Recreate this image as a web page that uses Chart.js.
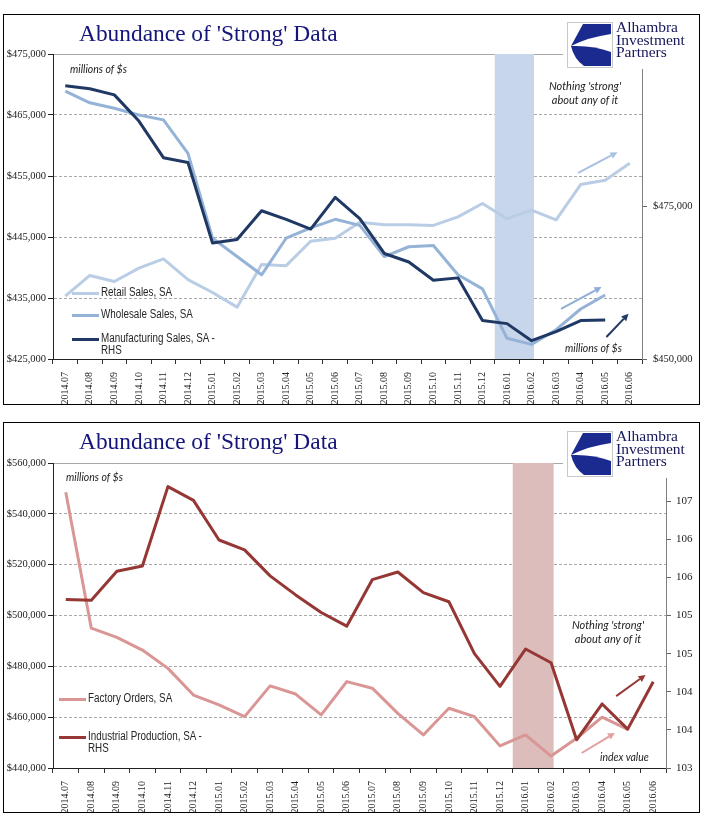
<!DOCTYPE html>
<html>
<head>
<meta charset="utf-8">
<script src="https://cdn.jsdelivr.net/npm/chart.js@4.4.0/dist/chart.umd.min.js"></script>
<style>
html,body{margin:0;padding:0;background:#fff;}
body{width:705px;height:834px;position:relative;overflow:hidden;}
.box{position:absolute;left:3px;width:695px;height:389px;border:1px solid #000;background:#fff;}
.box canvas{position:absolute;left:0;top:0;}
.title{position:absolute;left:79px;font-family:'Liberation Serif','Times New Roman',serif;font-size:23.4px;line-height:23.4px;color:#14147a;white-space:nowrap;}
.logo{position:absolute;left:563px;width:132px;height:50px;background:#fff;}
.logo svg{position:absolute;left:4px;top:3px;}
.logo .ltxt{position:absolute;left:53px;top:2px;font-family:'Liberation Serif','Times New Roman',serif;font-size:15.5px;line-height:12.6px;color:#16165a;white-space:nowrap;}
.note{position:absolute;font-family:Lato,'Open Sans',sans-serif;font-style:italic;font-size:10.5px;line-height:14px;color:#222;white-space:nowrap;}
.lg-sw{position:absolute;height:3px;width:27px;}
.lg-tx{position:absolute;font-family:'Liberation Sans',Arial,sans-serif;font-size:12px;line-height:11.5px;color:#262626;white-space:pre;transform:scaleX(0.82);transform-origin:0 0;}
</style>
</head>
<body>
<div class="box" style="top:14px;"><canvas id="c1" width="695" height="389"></canvas></div>
<div class="box" style="top:422px;"><canvas id="c2" width="695" height="389"></canvas></div>

<div class="title" style="top:22px;">Abundance of 'Strong' Data</div>
<div class="title" style="top:430px;">Abundance of 'Strong' Data</div>

<div class="logo" style="top:19px;">
  <svg width="46" height="46" viewBox="0 0 46 46"><rect x="0.5" y="0.5" width="45" height="45" fill="#fff" stroke="#c8c8c8"/><path d="M16,2 H44 V12 Q22,15 4,24 Z" fill="#1a2a8f"/><path d="M4,24 Q26,23 44,30 V44 H17 Q7,37 4,24 Z" fill="#1a2a8f"/></svg>
  <div class="ltxt">Alhambra<br>Investment<br>Partners</div>
</div>
<div class="logo" style="top:428px;">
  <svg width="46" height="46" viewBox="0 0 46 46"><rect x="0.5" y="0.5" width="45" height="45" fill="#fff" stroke="#c8c8c8"/><path d="M16,2 H44 V12 Q22,15 4,24 Z" fill="#1a2a8f"/><path d="M4,24 Q26,23 44,30 V44 H17 Q7,37 4,24 Z" fill="#1a2a8f"/></svg>
  <div class="ltxt">Alhambra<br>Investment<br>Partners</div>
</div>

<div class="note" style="left:70px;top:62px;">millions of $s</div>
<div class="note" style="left:542px;top:79px;width:86px;text-align:center;font-size:11px;">Nothing 'strong'<br>about any of it</div>
<div class="note" style="left:565px;top:341px;">millions of $s</div>

<div class="note" style="left:66px;top:470px;">millions of $s</div>
<div class="note" style="left:565px;top:618px;width:86px;text-align:center;font-size:11px;">Nothing 'strong'<br>about any of it</div>
<div class="note" style="left:600px;top:750px;">index value</div>

<div id="lg1"></div>
<div id="lg2"></div>

<script>
// ---------------- DATA ----------------
const months = ['2014.07','2014.08','2014.09','2014.10','2014.11','2014.12',
  '2015.01','2015.02','2015.03','2015.04','2015.05','2015.06','2015.07','2015.08',
  '2015.09','2015.10','2015.11','2015.12','2016.01','2016.02','2016.03','2016.04',
  '2016.05','2016.06'];

// Top chart (millions of $)
const retailSales = [435300,438700,437700,439900,441400,438000,435900,433500,440500,440300,
  444300,444800,447400,447000,447000,446900,448300,450500,448000,449400,447800,453600,454300,457100];
const wholesaleSales = [468900,467000,466100,465000,464200,458700,444800,441800,438800,444800,
  446500,447900,446900,441800,443400,443600,438800,436500,428400,427400,429800,433200,435500,null];
const manufacturingSalesRHS = [494800,494300,493300,489000,483000,482200,469000,469600,474300,472900,
  471300,476500,473000,467300,465900,462900,463300,456300,455800,453000,454500,456300,456400,null];

// Bottom chart
const factoryOrders = [548500,495000,491400,486400,479200,468700,464800,460200,472300,469100,
  460900,474000,471400,461500,453000,463500,460200,448700,453000,444700,451700,460000,455200,null];
const industrialProductionRHS = [105.21,105.20,105.58,105.65,106.69,106.51,105.99,105.86,105.52,105.27,
  105.04,104.86,105.47,105.57,105.30,105.18,104.50,104.07,104.56,104.38,103.37,103.84,103.51,104.13];

// Tick values
const topLeftTicks = [425000,435000,445000,455000,465000,475000];
const topRightTicks = [450000,475000,500000];
const bottomLeftTicks = [440000,460000,480000,500000,520000,540000,560000];
const bottomRightTicks = [103,103.5,104,104.5,105,105.5,106,106.5,107];

const highlightMonths = ['2016.01','2016.02'];

// ---------------- PLUGINS ----------------
const bandPlugin = {
  id: 'band',
  beforeDatasetsDraw(chart, args, opts) {
    const {ctx, chartArea, scales} = chart;
    const labels = chart.data.labels;
    const i0 = labels.indexOf(opts.from), i1 = labels.indexOf(opts.to);
    const x0 = scales.x.getPixelForValue(i0 - 0.5);
    const x1 = scales.x.getPixelForValue(i1 + 0.1);
    ctx.save();
    ctx.fillStyle = opts.color;
    ctx.fillRect(x0, chartArea.top, x1 - x0, chartArea.bottom - chartArea.top);
    ctx.restore();
  }
};
const arrowPlugin = {
  id: 'arrows',
  afterDatasetsDraw(chart, args, opts) {
    const {ctx, scales} = chart;
    (opts.list || []).forEach(a => {
      const ys = scales[a.axis];
      const x0 = scales.x.getPixelForValue(a.i0), y0 = ys.getPixelForValue(a.v0);
      const x1 = scales.x.getPixelForValue(a.i1), y1 = ys.getPixelForValue(a.v1);
      const ang = Math.atan2(y1 - y0, x1 - x0);
      const hl = 7, hw = 3.5;
      ctx.save();
      ctx.strokeStyle = a.color; ctx.fillStyle = a.color; ctx.lineWidth = 2;
      ctx.beginPath();
      ctx.moveTo(x0, y0);
      ctx.lineTo(x1 - hl * Math.cos(ang), y1 - hl * Math.sin(ang));
      ctx.stroke();
      ctx.beginPath();
      ctx.moveTo(x1, y1);
      ctx.lineTo(x1 - hl * Math.cos(ang) + hw * Math.sin(ang), y1 - hl * Math.sin(ang) - hw * Math.cos(ang));
      ctx.lineTo(x1 - hl * Math.cos(ang) - hw * Math.sin(ang), y1 - hl * Math.sin(ang) + hw * Math.cos(ang));
      ctx.closePath(); ctx.fill();
      ctx.restore();
    });
  }
};

const serif = "'Liberation Serif','Times New Roman',serif";
const money = v => '$' + Number(v).toLocaleString('en-US');

function lineDs(label, data, color, axis, order) {
  return {label, data, borderColor: color, backgroundColor: color, yAxisID: axis, order,
    borderWidth: 3, pointRadius: 0, tension: 0, borderJoinStyle: 'round', fill: false, spanGaps: false};
}

function makeScales(o) {
  return {
    x: {
      type: 'category', offset: true,
      grid: {display: true, drawOnChartArea: false, drawTicks: true, tickLength: 5, offset: true, color: '#333', tickColor: '#333'},
      border: {display: true, color: '#222', width: 1},
      ticks: {autoSkip: false, maxRotation: 90, minRotation: 90, padding: 8, color: '#222', font: {family: serif, size: 10}},
      afterFit: s => { s.height = o.xh; }
    },
    y: {
      position: 'left', min: o.lmin, max: o.lmax,
      afterBuildTicks: s => { s.ticks = o.lticks.map(v => ({value: v})); },
      grid: {drawOnChartArea: true, drawTicks: true, tickLength: 5,
        color: c => (c.tick && c.tick.value === o.lmin) ? 'rgba(0,0,0,0)' : '#a8a8a8', tickColor: '#222'},
      border: {display: true, color: '#222', dash: c => (c.tick && c.tick.value === o.lmax) ? [] : [3, 2]},
      ticks: {padding: 2, color: '#222', font: {family: serif, size: 10.5}, callback: v => money(v)},
      afterFit: s => { s.width = 49; }
    },
    y1: {
      position: 'right', min: o.rmin, max: o.rmax,
      afterBuildTicks: s => { s.ticks = o.rticks.map(v => ({value: v})); },
      grid: {drawOnChartArea: false, drawTicks: true, tickLength: 5, color: '#666', tickColor: '#666'},
      border: {display: true, color: '#7f7f7f'},
      ticks: {padding: o.rpad, color: '#222', font: {family: serif, size: o.rfs}, callback: o.rfmt},
      afterFit: s => { s.width = o.rw; }
    }
  };
}

const chart1 = new Chart(document.getElementById('c1'), {
  type: 'line',
  data: {
    labels: months,
    datasets: [
      lineDs('Retail Sales, SA', retailSales, '#b9cde5', 'y', 3),
      lineDs('Wholesale Sales, SA', wholesaleSales, '#95b3d7', 'y', 2),
      lineDs('Manufacturing Sales, SA -\nRHS', manufacturingSalesRHS, '#1f3864', 'y1', 1)
    ]
  },
  options: {
    responsive: false, animation: false, devicePixelRatio: 1,
    layout: {padding: {top: 39, left: 0, right: 0, bottom: 0}},
    scales: makeScales({xh: 45, lmin: 425000, lmax: 475000, lticks: topLeftTicks,
      rmin: 450000, rmax: 500000, rticks: topRightTicks, rw: 57, rfs: 10.5, rpad: 6,
      rfmt: v => v === 500000 ? null : money(v)}),
    plugins: {
      legend: {display: false}, tooltip: {enabled: false},
      band: {from: highlightMonths[0], to: highlightMonths[1], color: '#c7d6ea'},
      arrows: {list: [
        {i0: 20.9, v0: 455500, i1: 22.5, v1: 458900, axis: 'y', color: '#a9c1e0'},
        {i0: 20.2, v0: 433200, i1: 21.85, v1: 436800, axis: 'y', color: '#8eaed6'},
        {i0: 22.05, v0: 428600, i1: 22.95, v1: 432400, axis: 'y', color: '#1f3864'}
      ]}
    }
  },
  plugins: [bandPlugin, arrowPlugin]
});

const chart2 = new Chart(document.getElementById('c2'), {
  type: 'line',
  data: {
    labels: months,
    datasets: [
      lineDs('Factory Orders, SA', factoryOrders, '#d99694', 'y', 2),
      lineDs('Industrial Production, SA -\nRHS', industrialProductionRHS, '#953735', 'y1', 1)
    ]
  },
  options: {
    responsive: false, animation: false, devicePixelRatio: 1,
    layout: {padding: {top: 40, left: 0, right: 0, bottom: 0}},
    scales: makeScales({xh: 44, lmin: 440000, lmax: 560000, lticks: bottomLeftTicks,
      rmin: 103, rmax: 107, rticks: bottomRightTicks, rw: 33, rfs: 11, rpad: 5,
      rfmt: v => v === 107 ? null : String(Math.round(v))}),
    plugins: {
      legend: {display: false}, tooltip: {enabled: false},
      band: {from: highlightMonths[0], to: highlightMonths[1], color: '#ddbcbc'},
      arrows: {list: [
        {i0: 21.55, v0: 468300, i1: 22.7, v1: 476600, axis: 'y', color: '#953735'},
        {i0: 20.2, v0: 445900, i1: 21.5, v1: 453800, axis: 'y', color: '#e0a09e'}
      ]}
    }
  },
  plugins: [bandPlugin, arrowPlugin]
});

// HTML legend built from the datasets
function buildLegend(chart, el, left, rowsY) {
  chart.data.datasets.forEach((ds, i) => {
    const y = rowsY[i];
    const sw = document.createElement('div');
    sw.className = 'lg-sw';
    sw.style.left = left + 'px'; sw.style.top = (y - 1.5) + 'px';
    sw.style.background = ds.borderColor;
    const tx = document.createElement('div');
    tx.className = 'lg-tx';
    tx.style.left = (left + 29) + 'px'; tx.style.top = (y - 6) + 'px';
    tx.textContent = ds.label;
    el.appendChild(sw); el.appendChild(tx);
  });
}
buildLegend(chart1, document.getElementById('lg1'), 72, [293, 315, 339]);
buildLegend(chart2, document.getElementById('lg2'), 59, [699, 737]);
</script>
</body>
</html>
